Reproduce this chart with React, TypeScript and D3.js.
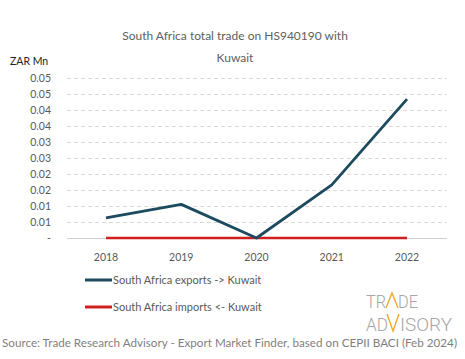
import React, { useEffect, useRef } from 'react';
import * as d3 from 'd3';

const years = ['2018', '2019', '2020', '2021', '2022'];
const exportsVals = [0.0063, 0.0105, 0.0, 0.0166, 0.0434];
const importsVals = [0, 0, 0, 0, 0];
const yTicks = [0, 0.005, 0.01, 0.015, 0.02, 0.025, 0.03, 0.035, 0.04, 0.045, 0.05];
const seriesNames = ['South Africa exports -> Kuwait', 'South Africa imports <- Kuwait'];
const seriesColors = ['#1c4a5f', '#d01f1f'];

const FONT = 'Lato, "Open Sans", sans-serif';

export default function App() {
  const svgRef = useRef<SVGSVGElement>(null);

  useEffect(() => {
    if (!svgRef.current) return;
    const svg = d3.select(svgRef.current);
    svg.selectAll('*').remove();

    const width = 465;
    const height = 359;

    // plot area
    const left = 67, right = 447, top = 78, bottom = 238;

    const x = d3.scalePoint<string>().domain(years).range([106, 407]);
    const y = d3.scaleLinear().domain([0, 0.05]).range([bottom, top]);

    svg.append('rect').attr('width', width).attr('height', height).attr('fill', '#fff');

    // title
    const title = svg.append('g').attr('font-family', FONT).attr('fill', '#606060').attr('font-size', 12).attr('text-anchor', 'middle');
    title.append('text').attr('x', 235).attr('y', 40).text('South Africa total trade on HS940190 with');
    title.append('text').attr('x', 235).attr('y', 62).text('Kuwait');

    svg.append('text')
      .attr('x', 10).attr('y', 65)
      .attr('font-family', FONT).attr('font-size', 10.5).attr('fill', '#222')
      .text('ZAR Mn');

    // gridlines
    svg.append('g')
      .selectAll('line')
      .data(yTicks)
      .enter()
      .append('line')
      .attr('x1', left).attr('x2', right)
      .attr('y1', d => Math.round(y(d)) + 0.5).attr('y2', d => Math.round(y(d)) + 0.5)
      .attr('stroke', d => d === 0 ? '#d0d0d0' : '#d9d9d9')
      .attr('stroke-dasharray', d => d === 0 ? null : '4,3');

    // y labels
    svg.append('g')
      .selectAll('text')
      .data(yTicks)
      .enter()
      .append('text')
      .attr('x', 51)
      .attr('y', d => y(d) + 3.5)
      .attr('text-anchor', 'end')
      .attr('font-family', FONT).attr('font-size', 10.5).attr('fill', '#595959')
      .text(d => d === 0 ? '-' : d3.format('.2f')(Math.round(d * 100 + 1e-9) / 100));

    // x labels
    svg.append('g')
      .selectAll('text')
      .data(years)
      .enter()
      .append('text')
      .attr('x', d => x(d) as number)
      .attr('y', 261)
      .attr('text-anchor', 'middle')
      .attr('font-family', FONT).attr('font-size', 10.5).attr('fill', '#595959')
      .text(d => d);

    const line = d3.line<number>()
      .x((_, i) => x(years[i]) as number)
      .y(d => y(d));

    svg.append('path').datum(importsVals)
      .attr('d', line).attr('fill', 'none')
      .attr('stroke', seriesColors[1]).attr('stroke-width', 2.5);

    svg.append('path').datum(exportsVals)
      .attr('d', line).attr('fill', 'none')
      .attr('stroke', seriesColors[0]).attr('stroke-width', 2.8)
      .attr('stroke-linejoin', 'round');

    // legend
    const legend = svg.append('g')
      .selectAll('g')
      .data(seriesNames)
      .enter()
      .append('g')
      .attr('transform', (_, i) => `translate(85,${280 + i * 27})`);
    legend.append('line')
      .attr('x1', 0).attr('x2', 27).attr('y1', 0).attr('y2', 0)
      .attr('stroke', (_, i) => seriesColors[i]).attr('stroke-width', 3);
    legend.append('text')
      .attr('x', 28).attr('y', 3.5)
      .attr('font-family', FONT).attr('font-size', 11).attr('fill', '#595959')
      .text(d => d);

    // source
    svg.append('text')
      .attr('x', 2).attr('y', 347)
      .attr('font-family', FONT).attr('font-size', 11).attr('fill', '#7f7f7f')
      .attr('textLength', 455).attr('lengthAdjust', 'spacingAndGlyphs')
      .text('Source: Trade Research Advisory - Export Market Finder, based on CEPII BACI (Feb 2024)');

    // logo
    const logo = svg.append('g')
      .attr('font-family', '"Liberation Sans Narrow", Roboto, sans-serif')
      .attr('font-weight', 300).attr('font-size', 19).attr('fill', '#a6a6a6');
    logo.append('text').attr('x', 366).attr('y', 308).attr('textLength', 20).attr('lengthAdjust', 'spacingAndGlyphs').text('TR');
    logo.append('text').attr('x', 398).attr('y', 308).attr('textLength', 20).attr('lengthAdjust', 'spacingAndGlyphs').text('DE');
    logo.append('path').attr('d', 'M386,308 L392,293 L398,308').attr('fill', 'none').attr('stroke', '#f0a830').attr('stroke-width', 1.4);
    logo.append('text').attr('x', 366).attr('y', 331).attr('textLength', 22).attr('lengthAdjust', 'spacingAndGlyphs').text('AD');
    logo.append('path').attr('d', 'M387,314 L393,331 L399,314').attr('fill', 'none').attr('stroke', '#f0a830').attr('stroke-width', 1.4);
    logo.append('text').attr('x', 400).attr('y', 331).attr('textLength', 52).attr('lengthAdjust', 'spacingAndGlyphs').text('ISORY');
  }, []);

  return (
    <svg
      ref={svgRef}
      width={465}
      height={359}
      style={{ position: 'absolute', left: 0, top: 0 }}
    />
  );
}
